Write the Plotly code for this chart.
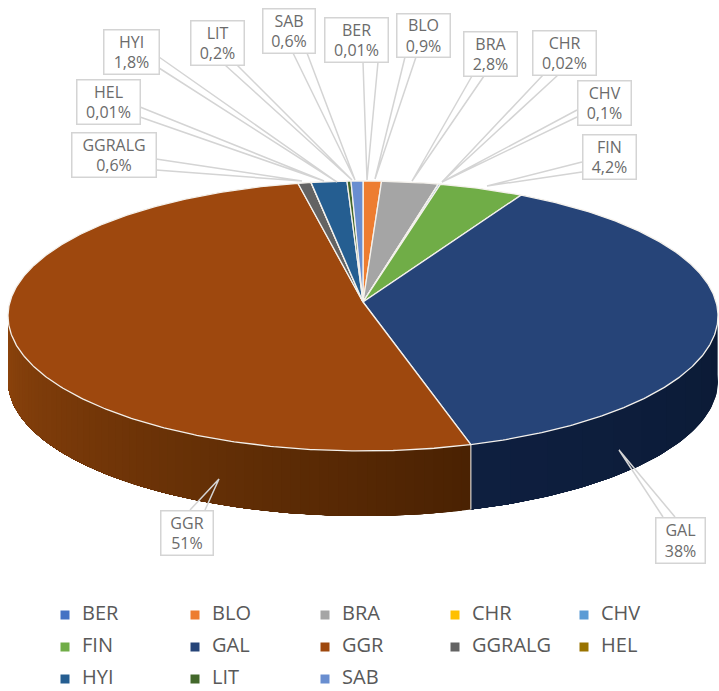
import numpy as np
import plotly.graph_objects as go

categories = ["BER", "BLO", "BRA", "CHR", "CHV", "FIN", "GAL", "GGR", "GGRALG", "HEL", "HYI", "LIT", "SAB"]
shares = [0.01, 0.9, 2.8, 0.02, 0.1, 4.2, 38, 51, 0.6, 0.01, 1.8, 0.2, 0.6]
share_labels = ["0,01%", "0,9%", "2,8%", "0,02%", "0,1%", "4,2%", "38%", "51%", "0,6%", "0,01%", "1,8%", "0,2%", "0,6%"]
colors = ["#4472C4", "#ED7D31", "#A5A5A5", "#FFC000", "#5B9BD5", "#70AD47", "#264478",
          "#9E480E", "#636363", "#997300", "#255E91", "#43682B", "#698ED0"]

# callout layout (pixels): box x0, x1, y0, y1
boxes = {
    "BER": (324, 388, 17, 62), "BLO": (396, 450, 13, 57), "BRA": (463, 517, 31, 76),
    "CHR": (532, 596, 30, 75), "CHV": (577, 631, 80, 125), "FIN": (582, 636, 134, 179),
    "GAL": (655, 705, 517, 563), "GGR": (160, 213, 510, 555), "GGRALG": (71, 156, 132, 177),
    "HEL": (76, 140, 79, 124), "HYI": (103, 159, 29, 74), "LIT": (190, 244, 20, 65),
    "SAB": (262, 315, 8, 53),
}
# leader wedge: base point, tip, base point
leaders = {
    "BER": ((363, 62), (367, 180), (378, 62)), "BLO": ((405, 57), (375, 179), (416, 57)),
    "BRA": ((472, 76), (412, 181), (484, 76)), "CHR": ((543, 75), (442, 182), (558, 75)),
    "CHV": ((577, 110), (442, 182), (577, 117)), "FIN": ((582, 162), (487, 186), (582, 172)),
    "GAL": ((663, 517), (619, 450), (675, 517)), "GGR": ((190, 510), (219, 479), (205, 510)),
    "GGRALG": ((156, 159), (302, 181), (156, 170)), "HEL": ((140, 107), (324, 181), (140, 117)),
    "HYI": ((159, 57), (337, 182), (159, 68)), "LIT": ((225, 65), (352, 180), (237, 65)),
    "SAB": ((293, 53), (355, 180), (307, 53)),
}

CX, CY, RX, RY, APEX_Y, DEPTH = 363, 316, 355, 135, 302, 65


def warp(theta):
    return theta + np.interp(theta, [0, 30, 166, 350, 360], [0, -2.5, -3, 1, 0])


def rim(theta):
    t = np.radians(warp(np.asarray(theta, dtype=float)))
    return CX + RX * np.sin(t), CY - RY * np.cos(t)


def mix(a, b, f):
    ca = [int(a[i:i + 2], 16) for i in (1, 3, 5)]
    cb = [int(b[i:i + 2], 16) for i in (1, 3, 5)]
    return "rgb(%d,%d,%d)" % tuple(round(x + (y - x) * f) for x, y in zip(ca, cb))


fractions = np.array(shares) / sum(shares)
ends = np.cumsum(fractions) * 360
starts = ends - fractions * 360
fig = go.Figure()


def poly(xs, ys, fill, line=None, width=0):
    fig.add_trace(go.Scatter(x=xs, y=ys, mode="lines", fill="toself", fillcolor=fill,
                             line=dict(color=line or fill, width=width),
                             hoverinfo="skip", showlegend=False))


# side wall: shaded strips painted over one another, from the slices that face the viewer
wall = {"GAL": ("#0b1a35", "#0e1f3f"), "GGR": ("#4a2202", "#8c430c")}
for name, (c0, c1) in wall.items():
    i = categories.index(name)
    a0, a1 = max(starts[i], 90), min(ends[i], 270)
    edges = np.linspace(a0, a1, 70 if name == "GGR" else 12)
    for k in range(len(edges) - 1):
        ts = np.linspace(edges[k], a1, max(4, int(a1 - edges[k])))
        xr, yr = rim(ts)
        f = k / (len(edges) - 2)
        poly(np.r_[xr, xr[::-1]], np.r_[yr, yr[::-1] + DEPTH], mix(c0, c1, f))
# seam between the two wall faces
xs, ys = rim([starts[categories.index("GGR")]])
fig.add_trace(go.Scatter(x=[xs[0], xs[0]], y=[ys[0], ys[0] + DEPTH], mode="lines",
                         line=dict(color="#d9d2cc", width=1.2), hoverinfo="skip", showlegend=False))

# top face
for i, name in enumerate(categories):
    ts = np.linspace(starts[i], ends[i], max(3, int((ends[i] - starts[i]) * 2)))
    xr, yr = rim(ts)
    poly(np.r_[CX, xr, CX], np.r_[APEX_Y, yr, APEX_Y], colors[i], "#f4f1ec", 1.3)

# leaders
for name in categories:
    pts = leaders[name]
    fig.add_trace(go.Scatter(x=[p[0] for p in pts], y=[p[1] for p in pts], mode="lines",
                             line=dict(color="#d4d4d4", width=1.5), hoverinfo="skip", showlegend=False))

# callout boxes
for i, name in enumerate(categories):
    x0, x1, y0, y1 = boxes[name]
    fig.add_annotation(x=(x0 + x1) / 2, y=(y0 + y1) / 2, xref="x", yref="y", showarrow=False,
                       text=f"{name}<br>{share_labels[i]}", width=x1 - x0 - 2, height=y1 - y0 - 2,
                       bgcolor="white", bordercolor="#d4d4d4", borderwidth=1.5, borderpad=0,
                       align="center", valign="middle",
                       font=dict(family="Open Sans", size=16, color="#6b6b6b"))

# legend grid
leg_x = [65, 195, 325, 455, 584]
leg_y = [615, 647, 679]
for i, name in enumerate(categories):
    fig.add_trace(go.Scatter(x=[leg_x[i % 5]], y=[leg_y[i // 5]], mode="markers+text",
                             text=["\u00a0\u00a0" + name],
                             textposition="middle right", marker=dict(symbol="square", size=9, color=colors[i]),
                             textfont=dict(family="Open Sans", size=20, color="#595959"),
                             name=name, hoverinfo="name", showlegend=False))

fig.update_layout(width=719, height=691, margin=dict(l=0, r=0, t=0, b=0), showlegend=False,
                  paper_bgcolor="white", plot_bgcolor="white",
                  xaxis=dict(range=[0, 719], visible=False, fixedrange=True),
                  yaxis=dict(range=[691, 0], visible=False, fixedrange=True))
fig.write_html("out.html", config=dict(displayModeBar=False),
               post_script="document.body.style.margin='0';document.documentElement.style.overflow='hidden';")
